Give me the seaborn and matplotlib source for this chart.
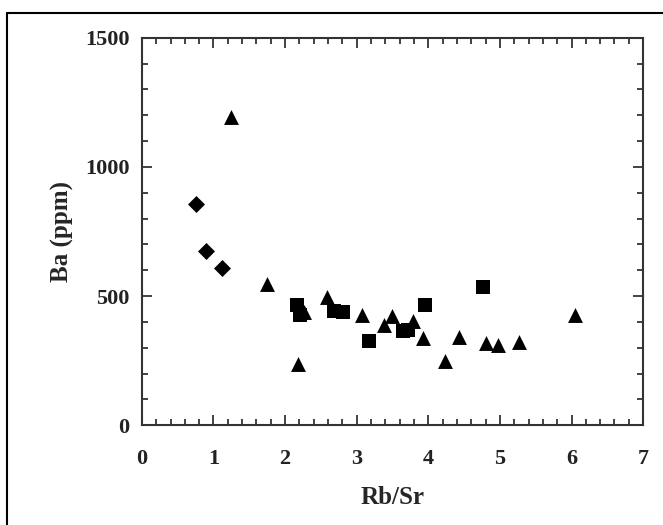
import numpy as np
import pandas as pd
import seaborn as sns
from matplotlib import pyplot as plt
from matplotlib.ticker import MultipleLocator
from matplotlib.lines import Line2D

# diamonds
dia_x = [0.76, 0.90, 1.12]
dia_y = [856, 673, 608]
# triangles
tri_x = [1.24, 1.75, 2.18, 2.27, 2.58, 3.07, 3.38, 3.50, 3.79, 3.92, 4.23, 4.43, 4.80, 4.97, 5.27, 6.05]
tri_y = [1195, 546, 237, 438, 495, 428, 389, 424, 402, 338, 247, 340, 318, 312, 322, 428]
# squares
sq_x = [2.17, 2.21, 2.68, 2.81, 3.17, 3.64, 3.71, 3.96, 4.77]
sq_y = [464, 428, 443, 438, 325, 363, 370, 464, 537]

sns.set_style('ticks')
plt.rcParams['font.family'] = ['Liberation Serif', 'DejaVu Serif']
plt.rcParams['font.weight'] = 'bold'

fig = plt.figure(figsize=(6.63, 5.25), dpi=100)
ax = fig.add_axes([0.214, 0.19, 0.756, 0.738])

sns.scatterplot(x=dia_x, y=dia_y, marker='D', s=75, color='black',
                linewidth=0, ax=ax)
sns.scatterplot(x=tri_x, y=tri_y, marker='^', s=115, color='black',
                linewidth=0, ax=ax)
sns.scatterplot(x=sq_x, y=sq_y, marker='s', s=90, color='black',
                linewidth=0, ax=ax)

ax.set_xlim(0, 7)
ax.set_ylim(0, 1500)
ax.xaxis.set_major_locator(MultipleLocator(1))
ax.xaxis.set_minor_locator(MultipleLocator(0.2))
ax.yaxis.set_major_locator(MultipleLocator(500))
ax.yaxis.set_minor_locator(MultipleLocator(100))
ax.tick_params(which='both', direction='in', top=True, right=True,
               width=1.2, colors='#222222', labelsize=16)
ax.tick_params(axis='x', which='major', pad=17)
ax.tick_params(axis='y', which='major', pad=9)
ax.tick_params(which='major', length=7)
ax.tick_params(which='minor', length=4)
for sp in ax.spines.values():
    sp.set_linewidth(1.5)
    sp.set_color('#333333')

ax.set_xlabel('Rb/Sr', fontsize=18, fontweight='bold', labelpad=12)
ax.set_ylabel('Ba (ppm)', fontsize=18, fontweight='bold', labelpad=8)

# outer frame lines (left and top only)
fig.add_artist(Line2D([7/663, 7/663], [0, 1 - 13/525], color='black', lw=1.5))
fig.add_artist(Line2D([7/663, 1], [1 - 13/525, 1 - 13/525], color='black', lw=1.5))

fig.savefig('out.png', dpi=100)
